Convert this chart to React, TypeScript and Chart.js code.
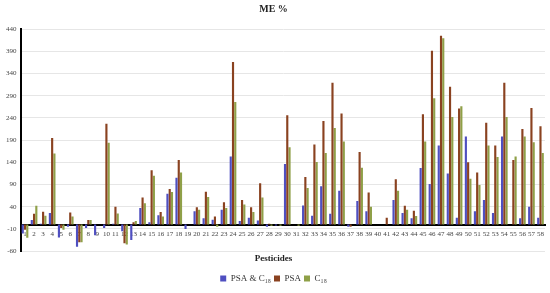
import React, { useEffect, useRef } from "react";
import { Chart, registerables } from "chart.js";

Chart.register(...registerables);

const categories: string[] = Array.from({ length: 58 }, (_, i) => String(i + 1));

const psaC18: number[] = [
  -20, 10, 2, 26, -29, -5, -50, -8, -24, -8,
  2, -15, -35, 37, 5, 21, 69, 105, -10, 30,
  14, 11, 33, 153, 8, 15, 9, -5, -2, 136,
  0, 43, 20, 86, 24, 76, -5, 53, 30, 0,
  0, 55, 26, 14, 127, 91, 178, 115, 15, 198,
  30, 55, 26, 198, 0, 14, 40, 15,
];

const psa: number[] = [
  -12, 24, 29, 195, -8, 27, -40, 10, 0, 227,
  40, -42, 5, 61, 122, 28, 80, 145, 0, 39,
  74, 18, 50, 366, 55, 39, 93, 2, 0, 246,
  0, 107, 180, 233, 319, 250, -5, 163, 72, 0,
  15, 102, 42, 31, 248, 391, 425, 310, 261, 140,
  117, 229, 178, 319, 145, 215, 262, 221,
];

const c18: number[] = [
  -30, 42, 20, 160, -12, 18, -40, 10, 0, 184,
  25, -45, 8, 48, 110, 18, 73, 117, 0, 33,
  62, -5, 37, 276, 45, 28, 61, -3, -3, 174,
  -3, 82, 141, 161, 217, 187, 0, 128, 40, 0,
  0, 76, 33, 19, 187, 284, 419, 242, 266, 103,
  89, 178, 152, 242, 153, 198, 185, 161,
];

const yTicks: number[] = [-60, -10, 40, 90, 140, 190, 240, 290, 340, 390, 440];

const serif = "'Liberation Serif', 'DejaVu Serif', serif";

export default function App() {
  const ref = useRef<HTMLCanvasElement | null>(null);

  useEffect(() => {
    document.body.style.margin = "0";
    const canvas = ref.current;
    if (!canvas) return;
    const chart = new Chart(canvas, {
      type: "bar",
      data: {
        labels: categories,
        datasets: [
          { label: "PSA & C₁₈", data: psaC18, backgroundColor: "#4f4fc0" },
          { label: "PSA", data: psa, backgroundColor: "#8a4220" },
          { label: "C₁₈", data: c18, backgroundColor: "#8fa048" },
        ],
      },
      options: {
        responsive: false,
        animation: false,
        maintainAspectRatio: false,
        layout: { padding: { left: 2, right: 5, top: 0, bottom: 0 } },
        datasets: {
          bar: { categoryPercentage: 0.75, barPercentage: 0.95 },
        },
        plugins: {
          title: {
            display: true,
            text: "ME %",
            color: "#222",
            font: { family: serif, size: 10, weight: "bold" },
            padding: { top: 3, bottom: 14 },
          },
          subtitle: {
            display: true,
            position: "bottom",
            weight: 500,
            text: "Pesticides",
            color: "#222",
            font: { family: serif, size: 9, weight: "bold" },
            padding: { top: 2, bottom: 7 },
          },
          legend: {
            display: true,
            position: "bottom",
            weight: 1000,
            labels: {
              boxWidth: 6,
              boxHeight: 6,
              padding: 3,
              color: "#333",
              font: { family: serif, size: 9 },
            },
          },
          tooltip: { enabled: false },
        },
        scales: {
          x: {
            position: { y: 0 } as any,
            grid: { display: false, drawTicks: false },
            border: { display: true, color: "#000", width: 2 },
            ticks: {
              autoSkip: false,
              maxRotation: 0,
              minRotation: 0,
              padding: 5,
              color: "#444",
              font: { family: serif, size: 7 },
            },
          },
          y: {
            min: -60,
            max: 440,
            afterBuildTicks: (scale: any) => {
              scale.ticks = yTicks.map((v) => ({ value: v }));
            },
            grid: { color: "#e6e6e6", lineWidth: 1, drawTicks: false },
            border: { display: true, color: "#000", width: 2 },
            ticks: {
              padding: 4,
              color: "#444",
              font: { family: serif, size: 7 },
            },
          },
        },
      },
    });
    return () => chart.destroy();
  }, []);

  return <canvas ref={ref} width={550} height={293} style={{ display: "block" }} />;
}
